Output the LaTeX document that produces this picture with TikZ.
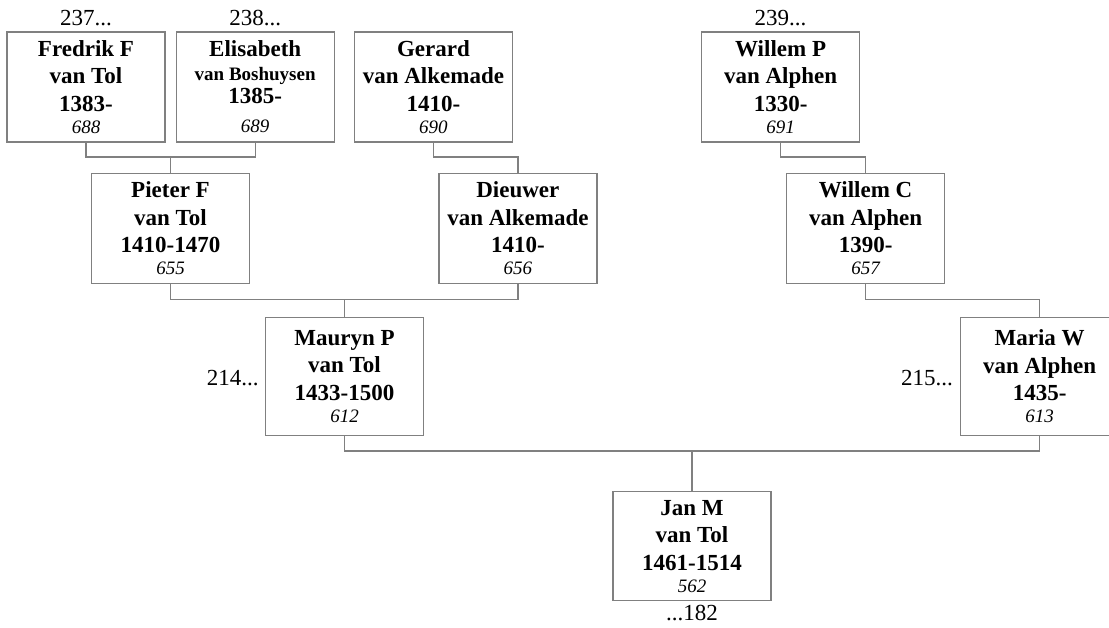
\documentclass[tikz,border=0pt]{standalone}
\usepackage{fontspec}
\setmainfont{Liberation Serif}
\usetikzlibrary{positioning,calc}
\definecolor{linegray}{RGB}{128,128,128}
\newcommand{\idno}[1]{{\fontsize{19}{19}\selectfont\mdseries\itshape #1}}

\begin{document}
\begin{tikzpicture}[
    x=1pt, y=1pt,
    person/.style={draw=linegray, line width=1.2pt, align=center, inner sep=2pt,
                   minimum width=158pt, minimum height=110pt,
                   font=\fontsize{23}{27.5}\selectfont\bfseries},
    tall/.style={minimum height=118pt},
    ref/.style={inner sep=0pt, font=\fontsize{23}{27.5}\selectfont},
    link/.style={draw=linegray, line width=1.2pt},
  ]
  \useasboundingbox (0,0) rectangle (1109,-628);

  % oldest generation
  \node[person] (fredrik) at (86,-87) {Fredrik F\\van Tol\\1383-\\[-5.5pt]\idno{688}};
  \node[person, right=10pt of fredrik] (elisabeth)
    {Elisabeth\\[-4pt]{\fontsize{19}{19}\selectfont van Boshuysen}\\[-4pt]1385-\\[1.5pt]\idno{689}};
  \node[person, right=19pt of elisabeth] (gerard) {Gerard\\van Alkemade\\1410-\\[-5.5pt]\idno{690}};
  \node[person, right=188pt of gerard] (willemp) {Willem P\\van Alphen\\1330-\\[-5.5pt]\idno{691}};

  % grandparents
  \node[person, below=30pt of fredrik, xshift=84.5pt] (pieter) {Pieter F\\van Tol\\1410-1470\\[-5.5pt]\idno{655}};
  \node[person, below=30pt of gerard, xshift=84.5pt] (dieuwer) {Dieuwer\\van Alkemade\\1410-\\[-5.5pt]\idno{656}};
  \node[person, below=30pt of willemp, xshift=85pt] (willemc) {Willem C\\van Alphen\\1390-\\[-5.5pt]\idno{657}};

  % parents
  \node[person, tall, below=33pt of pieter, xshift=174pt] (mauryn) {Mauryn P\\van Tol\\1433-1500\\[-5.5pt]\idno{612}};
  \node[person, tall, below=33pt of willemc, xshift=174pt] (maria) {Maria W\\van Alphen\\1435-\\[-5.5pt]\idno{613}};

  % root person
  \node[person, minimum height=109pt, below=55pt of mauryn, xshift=347.5pt] (jan)
    {Jan M\\van Tol\\1461-1514\\[-5.5pt]\idno{562}};

  % references
  \node[ref, above=5pt of fredrik] (r237) {237...};
  \node[ref, above=5pt of elisabeth] (r238) {238...};
  \node[ref, above=5pt of willemp] (r239) {239...};
  \node[ref, left=6pt of mauryn, yshift=-2pt] (r214) {214...};
  \node[ref, left=7pt of maria, yshift=-2pt] (r215) {215...};
  \node[ref, below=4pt of jan] (r182) {...182};

  % junctions
  \coordinate (j1) at ($(pieter.north)+(0,15.5)$);
  \coordinate (j2) at ($(dieuwer.north)+(0,15.5)$);
  \coordinate (j3) at ($(willemc.north)+(0,15.5)$);
  \coordinate (j4) at ($(mauryn.north)+(0,17)$);
  \coordinate (j5) at ($(maria.north)+(0,17)$);
  \coordinate (j6) at ($(jan.north)+(0,40)$);

  \draw[link] (fredrik.south) |- (j1) -| (elisabeth.south);
  \draw[link] (j1) -- (pieter.north);
  \draw[link] (gerard.south) |- (j2) -- (dieuwer.north);
  \draw[link] (willemp.south) |- (j3) -- (willemc.north);
  \draw[link] (pieter.south) |- (j4) -| (dieuwer.south);
  \draw[link] (j4) -- (mauryn.north);
  \draw[link] (willemc.south) |- (j5) -- (maria.north);
  \draw[link] (mauryn.south) |- (j6) -| (maria.south);
  \draw[link] (j6) -- (jan.north);
\end{tikzpicture}
\end{document}
